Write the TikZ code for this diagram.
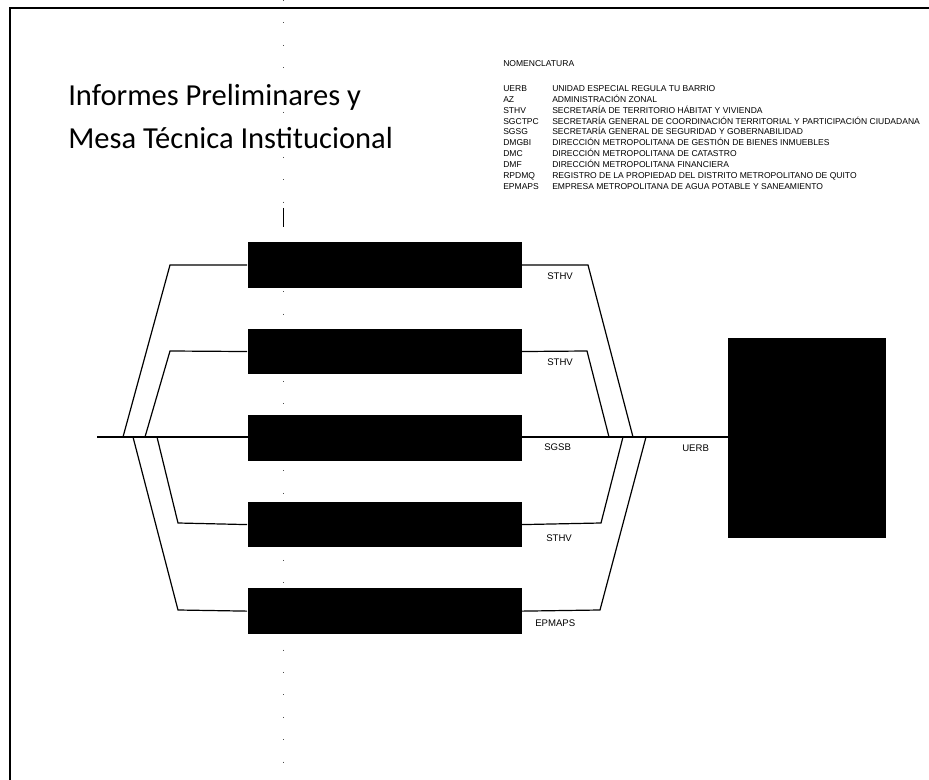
\documentclass[tikz,border=0pt]{standalone}
\usepackage{fontspec}
\setmainfont{Carlito}
\newfontfamily\nomfont{Liberation Sans}
\usetikzlibrary{positioning}

\begin{document}
\begin{tikzpicture}[
    x=0.75pt, y=-0.75pt,
    node distance=30.5pt,
    blk/.style={rectangle, fill=black, minimum width=205.5pt, minimum height=34pt, inner sep=0pt},
    bigblk/.style={rectangle, fill=black, minimum width=118.5pt, minimum height=150pt, inner sep=0pt},
    link/.style={line width=0.9pt},
    lbl/.style={font=\nomfont\fontsize{7.2}{8}\selectfont, anchor=base west, inner sep=0pt},
    nom/.style={font=\nomfont\fontsize{6.4}{7}\selectfont, anchor=base west, inner sep=0pt}
]
\useasboundingbox (0,0) rectangle (929,780);
\draw[line width=0.8pt] (10,780) -- (10,8) -- (929,8);
\draw[line width=0.35pt, black!70, dash pattern=on 0.8pt off 16pt] (283,0) -- (283,780);
\draw[line width=0.6pt] (283,208) -- (283,227);

\node[font=\fontsize{22.9}{32.25}\selectfont, align=left, anchor=base west, inner sep=0pt] (title) at (68,149) {Informes Preliminares y\\Mesa Técnica Institucional};

\node[nom] (nomtitle) at (503,67) {NOMENCLATURA};
\foreach \ab/\de [count=\i] in {UERB/UNIDAD ESPECIAL REGULA TU BARRIO, AZ/ADMINISTRACIÓN ZONAL, STHV/SECRETARÍA DE TERRITORIO HÁBITAT Y VIVIENDA, SGCTPC/SECRETARÍA GENERAL DE COORDINACIÓN TERRITORIAL Y PARTICIPACIÓN CIUDADANA, SGSG/SECRETARÍA GENERAL DE SEGURIDAD Y GOBERNABILIDAD, DMGBI/DIRECCIÓN METROPOLITANA DE GESTIÓN DE BIENES INMUEBLES, DMC/DIRECCIÓN METROPOLITANA DE CATASTRO, DMF/DIRECCIÓN METROPOLITANA FINANCIERA, RPDMQ/REGISTRO DE LA PROPIEDAD DEL DISTRITO METROPOLITANO DE QUITO, EPMAPS/EMPRESA METROPOLITANA DE AGUA POTABLE Y SANEAMIENTO} {
    \node[nom] (ab\i) at (503,{91.5+10.85*(\i-1)}) {\ab};
    \node[nom] (de\i) at (552,{91.5+10.85*(\i-1)}) {\de};
}

\node[blk] (b1) at (384.5,265) {};
\node[blk, below=of b1] (b2) {};
\node[blk, below=of b2] (b3) {};
\node[blk, below=of b3] (b4) {};
\node[blk, below=of b4] (b5) {};
\node[bigblk] (uerb) at (807,438) {};

\coordinate (start) at (97,437);
\coordinate (l1) at (123,437);
\coordinate (l2) at (145,437);
\coordinate (l4) at (157,437);
\coordinate (l5) at (133,437);
\coordinate (r1) at (633,437);
\coordinate (r2) at (609,437);
\coordinate (r4) at (623,437);
\coordinate (r5) at (646,437);

\draw[link] (start) -- (start -| uerb.west);
\draw[link] (l1) -- (170,265) -- (b1.west);
\draw[link] (l2) -- (170,351) -- (b2.west);
\draw[link] (l4) -- (178,523) -- (b4.west);
\draw[link] (l5) -- (178,610) -- (b5.west);
\draw[link] (b1.east) -- (588,265) -- (r1);
\draw[link] (b2.east) -- (587,351) -- (r2);
\draw[link] (b4.east) -- (601,523) -- (r4);
\draw[link] (b5.east) -- (600,610) -- (r5);

\node[lbl] (t1) at (547,280) {STHV};
\node[lbl] (t2) at (547,366) {STHV};
\node[lbl] (t3) at (544,451) {SGSB};
\node[lbl] (t4) at (546,542) {STHV};
\node[lbl] (t5) at (535,627) {EPMAPS};
\node[lbl] (t6) at (682,452) {UERB};
\end{tikzpicture}
\end{document}
